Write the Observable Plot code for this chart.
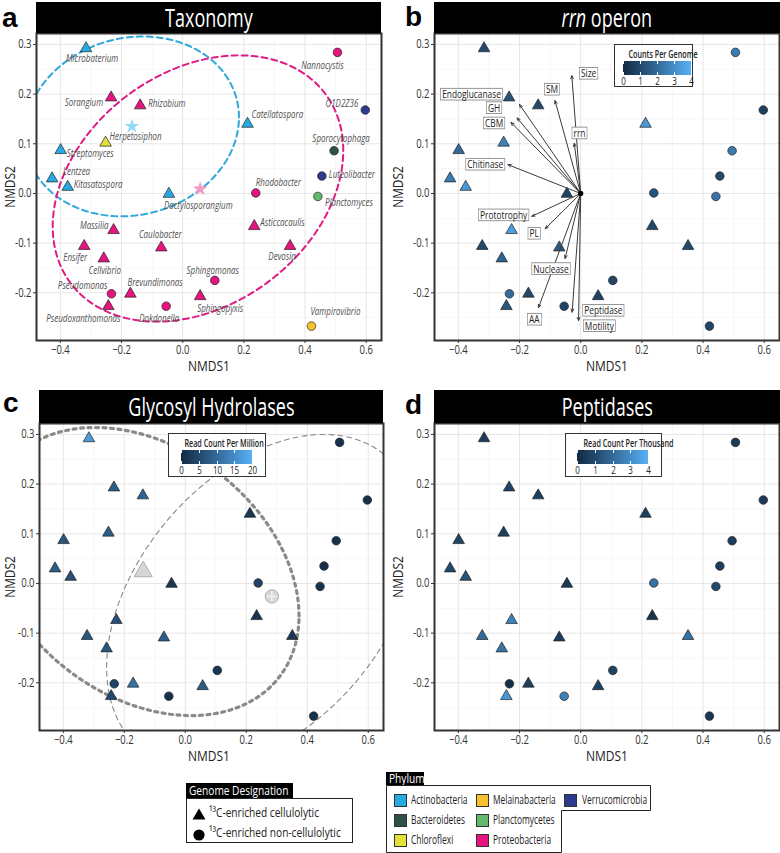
<!DOCTYPE html>
<html>
<head>
<meta charset="utf-8">
<script src="https://cdn.jsdelivr.net/npm/d3@7"></script>
<script src="https://cdn.jsdelivr.net/npm/@observablehq/plot@0.6"></script>
<style>
html,body{margin:0;padding:0;background:#fff;}
#root{position:relative;width:780px;height:853px;overflow:hidden;background:#fff;
  font-family:"Open Sans",sans-serif;color:#222;}
#root > *{position:absolute;}
.cn{display:inline-block;}
.title{background:#000;color:#fff;text-align:center;font-size:25px;white-space:nowrap;}
.title .cn{transform:scaleX(0.72);}
.letter{font-family:"Liberation Sans",sans-serif;font-size:28px;font-weight:bold;line-height:normal;color:#000;}
.xt{font-size:15px;line-height:15px;color:#222;transform:translate(-50%,-50%) scaleX(0.8);white-space:nowrap;}
.yt{font-size:14px;line-height:14px;color:#222;transform:translate(-50%,-50%) rotate(-90deg) scaleX(0.85);white-space:nowrap;}
.ramp{background:#fff;border:1px solid #333;box-sizing:border-box;}
.ramp .rt{height:14px;line-height:14px;margin-top:2px;font-size:10px;font-weight:600;text-align:center;color:#222;white-space:nowrap;}
.ramp .rt .cn{transform:scaleX(0.72);}
.ramp svg{display:block;overflow:visible;}
.hdr{background:#000;color:#fff;font-size:13px;white-space:nowrap;box-sizing:border-box;padding-left:3px;}
.hdr .cn{transform:scaleX(0.78);transform-origin:left center;}
.lt{font-size:12px;line-height:14px;color:#222;white-space:nowrap;transform:translateY(-50%) scaleX(0.7);transform-origin:left center;}
.lt.big{font-size:13.5px;line-height:16px;transform:translateY(-50%) scaleX(0.75);}
.sw{width:13px;height:13px;box-sizing:border-box;border:1px solid #333;}
</style>
</head>
<body>
<div id="root"></div>
<script>
// ---------------- data ----------------
const genus = ["Microbaterium","Sorangium","Rhizobium","Catellatospora","Herpetosiphon","Streptomyces","Lentzea","Kitasatospora","Dactylosporangium","Massilia","Asticcacaulis","Ensifer","Caulobacter","Devosia","Cellvibrio","Brevundimonas","Sphingopyxis","Pseudoxanthomonas","Nannocystis","O1D2Z36","Sporocytophaga","Luteolibacter","Rhodobacter","Planctomyces","Sphingomonas","Pseudomonas","Dokdonella","Vampirovibrio"];
const nmds1 = [-0.316,-0.234,-0.139,0.212,-0.252,-0.399,-0.427,-0.376,-0.045,-0.226,0.234,-0.322,-0.070,0.351,-0.258,-0.171,0.057,-0.243,0.506,0.597,0.495,0.455,0.239,0.442,0.105,-0.233,-0.054,0.421];
const nmds2 = [0.292,0.193,0.177,0.140,0.102,0.087,0.030,0.013,-0.001,-0.074,-0.066,-0.106,-0.109,-0.106,-0.131,-0.202,-0.207,-0.227,0.284,0.168,0.086,0.035,0.001,-0.006,-0.175,-0.202,-0.227,-0.267];
const designation = ["cellulolytic","cellulolytic","cellulolytic","cellulolytic","cellulolytic","cellulolytic","cellulolytic","cellulolytic","cellulolytic","cellulolytic","cellulolytic","cellulolytic","cellulolytic","cellulolytic","cellulolytic","cellulolytic","cellulolytic","cellulolytic","non-cellulolytic","non-cellulolytic","non-cellulolytic","non-cellulolytic","non-cellulolytic","non-cellulolytic","non-cellulolytic","non-cellulolytic","non-cellulolytic","non-cellulolytic"];
const phylum = ["Actinobacteria","Proteobacteria","Proteobacteria","Actinobacteria","Chloroflexi","Actinobacteria","Actinobacteria","Actinobacteria","Actinobacteria","Proteobacteria","Proteobacteria","Proteobacteria","Proteobacteria","Proteobacteria","Proteobacteria","Proteobacteria","Proteobacteria","Proteobacteria","Proteobacteria","Verrucomicrobia","Bacteroidetes","Verrucomicrobia","Proteobacteria","Planctomycetes","Proteobacteria","Proteobacteria","Proteobacteria","Melainabacteria"];
const rrnPerGenome = [1,1.3,1,3.3,2.7,2,2.5,3.3,0.8,3.5,1,1,1.5,1,1.8,1,0.8,1.4,2.5,0.7,2.5,1,1.3,2.3,0.9,2,0.9,0.8];
const ghPerMillion = [17,8,9,2,8,7,8,6,2,6,1.5,7,8,2,7,11,8,5,1,1,1,1,4,1,2,4,1,1];
const peptidasePerThousand = [0.5,0.8,0.6,0.7,0.7,0.8,1.0,1.3,0.5,2.7,0.3,2.0,0.6,2.2,2.3,0.7,0.8,3.3,0.5,0.5,0.6,0.6,2.2,1.0,0.8,0.1,2.7,0.4];

const phylumNames = ["Actinobacteria","Bacteroidetes","Chloroflexi","Melainabacteria","Planctomycetes","Proteobacteria","Verrucomicrobia"];
const phylumColors = ["#27AAE1","#2E5346","#E3E036","#F8C12C","#62B86C","#E5147E","#2D3A8E"];

// phylum centroids (panel a)
const centroidPhylum = ["Actinobacteria","Proteobacteria"];
const centroidX = [-0.166, 0.057];
const centroidY = [0.135, 0.009];
const centroidColors = ["#91D7F6","#F29AC1"];

// ellipses (panel a): centre, spread, correlation
const ellAGroup = ["Actinobacteria","Proteobacteria"];
const ellACx = [-0.166, 0.050];
const ellACy = [0.135, 0.010];
const ellASx = [0.350, 0.475];
const ellASy = [0.181, 0.268];
const ellAR  = [0.10, 0.285];
const ellAColors = ["#2FA9DC","#E01B84"];

// fitted vectors (panel b)
const vectorName = ["Size","SM","Endoglucanase","GH","CBM","rrn","Chitinase","Prototrophy","PL","Nuclease","AA","Peptidase","Motility"];
const vectorX = [-0.029,-0.084,-0.200,-0.208,-0.228,-0.021,-0.238,-0.160,-0.116,-0.051,-0.138,-0.028,-0.007];
const vectorY = [0.237,0.187,0.179,0.152,0.143,0.101,0.058,-0.046,-0.071,-0.131,-0.230,-0.239,-0.256];
const vectorLabelX = [0.026,-0.094,-0.357,-0.283,-0.283,-0.004,-0.312,-0.252,-0.152,-0.097,-0.152,0.074,0.061];
const vectorLabelY = [0.241,0.209,0.199,0.172,0.141,0.121,0.058,-0.044,-0.081,-0.152,-0.254,-0.236,-0.267];

// designation centroids & ellipses (panel c)
const desCentroid = ["cellulolytic","non-cellulolytic"];
const desCentroidX = [-0.138, 0.284];
const desCentroidY = [0.024, -0.026];
const ellCCx = [-0.138, 0.251];
const ellCCy = [0.024, -0.035];
const ellCSx = [0.511, 0.509];
const ellCSy = [0.290, 0.335];
const ellCR  = [-0.308, 0.40];

// axis ticks
const X_TICKS = [-0.4,-0.2,0,0.2,0.4,0.6];
const Y_TICKS = [-0.2,-0.1,0,0.1,0.2,0.3];
const X_MINOR = [-0.3,-0.1,0.1,0.3,0.5];
const Y_MINOR = [-0.25,-0.15,-0.05,0.05,0.15,0.25];
const rampTicks4 = [0,1,2,3,4];
const rampTicks20 = [0,5,10,15,20];

// ---------------- layout (label offsets, px) ----------------
const labelDx = [6,-8,8,4,4,6,11,6,-5,-5,6,-9,-1,-8,1,-3,-3,-25,-15,-7,7,7,0,7,-2,-4,-7,24];
const labelDy = [10,5,-2,-9,-6,3,-7,-2,12,-5,-4,12,-13,11,12,-11,12,12,13,-6,-12,-1,-10,6,-10,-8,12,-14];
const labelAnchor = ["middle","end","start","start","start","start","start","start","start","end","start","middle","middle","middle","middle","start","start","middle","middle","end","middle","start","start","start","middle","end","middle","middle"];

const FONT = '"Open Sans",sans-serif';
const BLUES = ["#132B43","#56B1F7"];
const X_DOMAIN = [-0.478, 0.650];
const Y_DOMAIN = [-0.296, 0.322];

const pts = genus.map((g, i) => ({genus: g, x: nmds1[i], y: nmds2[i], des: designation[i], phylum: phylum[i],
  rrn: rrnPerGenome[i], gh: ghPerMillion[i], pep: peptidasePerThousand[i]}));
const vectors = vectorName.map((n, i) => ({name: n, x: vectorX[i], y: vectorY[i], lx: vectorLabelX[i], ly: vectorLabelY[i]}));

function ellipsePoints(cx, cy, sx, sy, r) {
  const k = Math.sqrt(1 - r * r);
  return d3.range(0, 362, 2).map(deg => {
    const t = deg * Math.PI / 180;
    return {x: cx + sx * Math.cos(t), y: cy + sy * (r * Math.cos(t) + k * Math.sin(t))};
  });
}

const fmtX = d => (d < 0 ? "\u2212" : "") + Math.abs(d).toFixed(1);
const fmtY = d => d.toFixed(1);

function panel(ml, mr, color, marks) {
  return Plot.plot({
    width: 390, height: 337, marginLeft: ml, marginRight: mr, marginTop: 0, marginBottom: 30,
    x: {domain: X_DOMAIN, label: null}, y: {domain: Y_DOMAIN, label: null},
    color,
    symbol: {domain: ["cellulolytic","non-cellulolytic"], range: ["triangle","circle"]},
    style: {fontFamily: FONT, background: "transparent", color: "#333", overflow: "visible"},
    marks: [
      Plot.gridX(X_MINOR, {stroke: "#f3f3f3", strokeOpacity: 1, strokeWidth: 0.7}),
      Plot.gridY(Y_MINOR, {stroke: "#f3f3f3", strokeOpacity: 1, strokeWidth: 0.7}),
      Plot.gridX(X_TICKS, {stroke: "#e6e6e6", strokeOpacity: 1, strokeWidth: 1}),
      Plot.gridY(Y_TICKS, {stroke: "#e6e6e6", strokeOpacity: 1, strokeWidth: 1}),
      Plot.axisX(X_TICKS, {tickSize: 3, tickPadding: 2, fontSize: 12.5, tickFormat: fmtX, label: null}),
      Plot.axisY(Y_TICKS, {tickSize: 3, tickPadding: 2, fontSize: 12.5, tickFormat: fmtY, label: null}),
      ...marks,
      Plot.frame({stroke: "#333", strokeWidth: 2})
    ]
  });
}

const dotOpts = {x: "x", y: "y", symbol: "des", stroke: "#222", strokeWidth: 0.7, r: 4.3};

// ---- panel a ----
const plotA = panel(36, 9, {domain: phylumNames, range: phylumColors}, [
  ...ellAGroup.map((g, i) => Plot.line(ellipsePoints(ellACx[i], ellACy[i], ellASx[i], ellASy[i], ellAR[i]),
    {x: "x", y: "y", stroke: ellAColors[i], strokeWidth: 2, strokeDasharray: "6,4", clip: true})),
  Plot.dot(centroidPhylum.map((p, i) => ({p, x: centroidX[i], y: centroidY[i], c: centroidColors[i]})),
    {x: "x", y: "y", symbol: "star", r: 4.6, fill: d => d.c}),
  Plot.dot(pts, {...dotOpts, fill: "phylum"}),
  ...pts.map((p, i) => Plot.text([p], {x: "x", y: "y", text: "genus", dx: labelDx[i], dy: labelDy[i],
    textAnchor: labelAnchor[i], fontStyle: "italic", fontSize: 10.5, fill: "#505050"}))
]);

// ---- panel b ----
const plotB = panel(44, 1, {type: "linear", domain: [0, 4], range: BLUES, interpolate: "lab"}, [
  Plot.dot(pts, {...dotOpts, fill: "rrn"}),
  Plot.arrow(vectors, {x1: () => 0, y1: () => 0, x2: "x", y2: "y", stroke: "#3a3a3a", strokeWidth: 1, headLength: 5, headAngle: 45}),
  Plot.dot([{x: 0, y: 0}], {x: "x", y: "y", r: 2.6, fill: "#000"}),
  Plot.text(vectors, {x: "lx", y: "ly", text: "name", fontSize: 11, fill: "#222"})
]);

// ---- panel c ----
const plotC = panel(39, 7, {type: "linear", domain: [0, 20], range: BLUES, interpolate: "lab"}, [
  Plot.line(ellipsePoints(ellCCx[0], ellCCy[0], ellCSx[0], ellCSy[0], ellCR[0]),
    {x: "x", y: "y", stroke: "#8a8a8a", strokeWidth: 3.2, strokeDasharray: "3,4.5", clip: true}),
  Plot.line(ellipsePoints(ellCCx[1], ellCCy[1], ellCSx[1], ellCSy[1], ellCR[1]),
    {x: "x", y: "y", stroke: "#888", strokeWidth: 1.1, strokeDasharray: "5,4", clip: true}),
  Plot.dot(desCentroid.map((d, i) => ({des: d, x: desCentroidX[i], y: desCentroidY[i]})),
    {x: "x", y: "y", symbol: "des", r: 6.7, fill: "#d6d6d6", stroke: "#b0b0b0", strokeWidth: 1}),
  Plot.dot([{x: desCentroidX[1], y: desCentroidY[1]}], {x: "x", y: "y", symbol: "plus", r: 3.2, stroke: "#f4f4f4", strokeWidth: 1.6}),
  Plot.dot(pts, {...dotOpts, fill: "gh"})
]);

// ---- panel d ----
const plotD = panel(44, 1, {type: "linear", domain: [0, 4], range: BLUES, interpolate: "lab"}, [
  Plot.dot(pts, {...dotOpts, fill: "pep"})
]);

const root = document.getElementById("root");
function place(el, left, top) { el.style.left = left + "px"; el.style.top = top + "px"; root.appendChild(el); return el; }
function div(cls, html, left, top, w, h) {
  const e = document.createElement("div"); e.className = cls; e.innerHTML = html;
  if (w != null) e.style.width = w + "px";
  if (h != null) { e.style.height = h + "px"; e.style.lineHeight = h + "px"; }
  return place(e, left, top);
}
// narrow the humanist sans horizontally (condensed look of the original)
function condense(svg, s) {
  svg.querySelectorAll("text").forEach(t => {
    const tr = t.getAttribute("transform");
    if (tr) t.setAttribute("transform", tr + ` scale(${s},1)`);
    else {
      const x = +(t.getAttribute("x") || 0), y = +(t.getAttribute("y") || 0);
      t.setAttribute("transform", `translate(${x},${y}) scale(${s},1) translate(${-x},${-y})`);
    }
  });
}

place(plotA, 0, 33); place(plotB, 390, 33); place(plotC, 0, 423); place(plotD, 390, 423);
[plotA, plotB, plotC, plotD].forEach(p => condense(p, 0.76));

// boxed vector labels in panel b
plotB.querySelectorAll('g[aria-label="text"] text').forEach(t => {
  const bb = t.getBBox();
  const r = document.createElementNS("http://www.w3.org/2000/svg", "rect");
  r.setAttribute("x", bb.x - 2); r.setAttribute("y", bb.y + 1.5);
  r.setAttribute("width", bb.width + 4); r.setAttribute("height", Math.max(0, bb.height - 3));
  r.setAttribute("fill", "#fff"); r.setAttribute("stroke", "#8a8a8a"); r.setAttribute("stroke-width", "0.9");
  if (t.getAttribute("transform")) r.setAttribute("transform", t.getAttribute("transform"));
  t.parentNode.insertBefore(r, t);
});

// title bars and panel letters
const cn = s => `<span class="cn">${s}</span>`;
div("title", cn("Taxonomy"), 36, 2, 345, 31);
div("title", cn("<i>rrn</i> operon"), 434, 2, 346, 31);
div("title", cn("Glycosyl Hydrolases"), 39, 390, 344, 33);
div("title", cn("Peptidases"), 434, 390, 346, 33);
div("letter", "a", 2, 2); div("letter", "b", 405, 1);
div("letter", "c", 3, 387); div("letter", "d", 405, 389);

// axis titles
div("xt", "NMDS1", 208.5, 365); div("xt", "NMDS1", 606.5, 365);
div("xt", "NMDS1", 209, 755); div("xt", "NMDS1", 606.5, 755);
div("yt", "NMDS2", 10, 186.5); div("yt", "NMDS2", 398, 186.5);
div("yt", "NMDS2", 10, 576.5); div("yt", "NMDS2", 398, 576.5);

// ramp legends
function ramp(title, domain, ticks, left, top, w, h, ml, mr) {
  const box = div("ramp", "", left, top, w, h);
  box.style.lineHeight = "normal";
  const t = document.createElement("div"); t.className = "rt"; t.innerHTML = cn(title); box.appendChild(t);
  const leg = Plot.legend({color: {type: "linear", domain, range: BLUES, interpolate: "lab"},
    width: w - 2, height: 27, marginTop: 0, marginBottom: 13, marginLeft: ml, marginRight: mr,
    ticks, tickSize: 0, tickFormat: d => String(d), style: {fontFamily: FONT, fontSize: "10px", color: "#222", background: "transparent"}});
  leg.querySelectorAll(".tick line").forEach(l => { l.setAttribute("stroke", "#fff"); l.setAttribute("stroke-dasharray", "3,8,3"); });
  box.appendChild(leg);
  condense(leg, 0.8);
}
ramp("Counts Per Genome", [0, 4], rampTicks4, 614, 44, 79, 43, 8, 1);
ramp("Read Count Per Million", [0, 20], rampTicks20, 168, 433, 98, 44, 12, 13);
ramp("Read Count Per Thousand", [0, 4], rampTicks4, 565, 433, 97, 44, 11, 13);

// genome designation legend
div("hdr", cn("Genome Designation"), 186, 783, 107, 15);
const gbox = div("", "", 186, 798, 167, 45); gbox.style.border = "1px solid #222"; gbox.style.boxSizing = "border-box";
div("", '<svg width="14" height="14"><polygon points="7,1.5 13.5,12.5 0.5,12.5" fill="#000"/></svg>', 192, 804);
div("", '<svg width="14" height="14"><circle cx="7" cy="7" r="5.6" fill="#000"/></svg>', 192, 825);
div("lt big", "¹³C-enriched cellulolytic", 209, 812);
div("lt big", "¹³C-enriched non-cellulolytic", 209, 832);

// phylum legend
div("hdr", cn("Phylum"), 386, 772, 38, 13);
div("", '<svg width="270" height="70"><path d="M0.5,0.5H264.5V25.5H175.5V67.5H0.5Z" fill="none" stroke="#222" stroke-width="1"/></svg>', 385.5, 784.5);
const swCols = [[0,1,2],[3,4,5],[6]];
const swX = [394, 476, 564];
const txX = [411, 493, 582];
const rowY = [800, 820, 840];
swCols.forEach((col, c) => col.forEach((k, r) => {
  const s = div("sw", "", swX[c], rowY[r] - 6.5); s.style.background = phylumColors[k];
  div("lt", phylumNames[k], txX[c], rowY[r]);
}));
</script>
</body>
</html>
